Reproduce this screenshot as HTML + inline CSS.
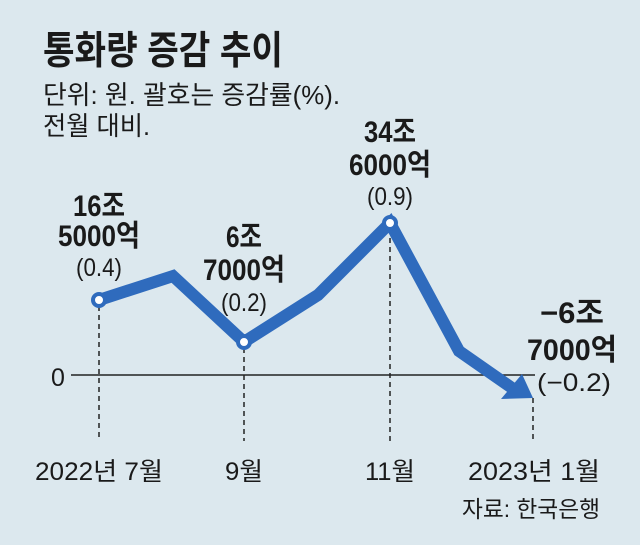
<!DOCTYPE html>
<html><head><meta charset="utf-8"><style>
html,body{margin:0;padding:0;background:#dce8ee;}
svg{display:block;}
text{font-family:"Liberation Sans","Noto Sans CJK KR","NanumGothic",sans-serif;fill:#1a1a1a;}
.b{font-weight:bold;font-size:30px;}
.n{font-size:25px;}
</style></head><body>
<svg width="640" height="545" viewBox="0 0 640 545">
<rect width="640" height="545" fill="#dce8ee"/>
<text x="43" y="64" font-size="39" font-weight="bold" textLength="240" lengthAdjust="spacingAndGlyphs">통화량 증감 추이</text>
<text x="43" y="104" font-size="26" textLength="297" lengthAdjust="spacingAndGlyphs" fill="#333">단위: 원. 괄호는 증감률(%).</text>
<text x="43" y="135" font-size="26" textLength="107" lengthAdjust="spacingAndGlyphs" fill="#333">전월 대비.</text>
<line x1="71" y1="375" x2="535" y2="375" stroke="#222" stroke-width="1.5"/>
<text x="58" y="386" font-size="25" text-anchor="middle">0</text>
<g stroke="#222" stroke-width="1.5" stroke-dasharray="5,4">
<line x1="99" y1="306" x2="99" y2="441"/>
<line x1="244" y1="348" x2="244" y2="441"/>
<line x1="390" y1="229" x2="390" y2="441"/>
<line x1="533" y1="398" x2="533" y2="441"/>
</g>
<polyline points="99,300 173,276 244,342 318,295 390,223 459,351 512,388" fill="none" stroke="#2f6bbd" stroke-width="12" stroke-linejoin="miter"/>
<polygon points="501,399 522,374 533,398" fill="#2f6bbd"/>
<g fill="#fff" stroke="#2f6bbd" stroke-width="4">
<circle cx="99" cy="300" r="6"/>
<circle cx="244" cy="342" r="6"/>
<circle cx="390" cy="223" r="6"/>
</g>
<g text-anchor="middle">
<text class="b" x="99" y="216" textLength="52" lengthAdjust="spacingAndGlyphs">16조</text>
<text class="b" x="99" y="246" textLength="82" lengthAdjust="spacingAndGlyphs">5000억</text>
<text class="n" x="99" y="276" textLength="46" lengthAdjust="spacingAndGlyphs">(0.4)</text>
<text class="b" x="244" y="247" textLength="36" lengthAdjust="spacingAndGlyphs">6조</text>
<text class="b" x="244" y="280" textLength="82" lengthAdjust="spacingAndGlyphs">7000억</text>
<text class="n" x="244" y="311" textLength="46" lengthAdjust="spacingAndGlyphs">(0.2)</text>
<text class="b" x="390" y="142" textLength="52" lengthAdjust="spacingAndGlyphs">34조</text>
<text class="b" x="390" y="175" textLength="82" lengthAdjust="spacingAndGlyphs">6000억</text>
<text class="n" x="390" y="205" textLength="46" lengthAdjust="spacingAndGlyphs">(0.9)</text>
<text class="b" x="572" y="323" textLength="64" lengthAdjust="spacingAndGlyphs">−6조</text>
<text class="b" x="572" y="360" textLength="90" lengthAdjust="spacingAndGlyphs">7000억</text>
<text class="n" x="574" y="391" textLength="74" lengthAdjust="spacingAndGlyphs">(−0.2)</text>
<text class="n" x="99" y="480" font-size="26" textLength="128" lengthAdjust="spacingAndGlyphs">2022년 7월</text>
<text class="n" x="244" y="480" font-size="26" textLength="38" lengthAdjust="spacingAndGlyphs">9월</text>
<text class="n" x="390" y="480" font-size="26" textLength="50" lengthAdjust="spacingAndGlyphs">11월</text>
<text class="n" x="534" y="480" font-size="26" textLength="132" lengthAdjust="spacingAndGlyphs">2023년 1월</text>
</g>
<text x="462" y="517" font-size="23" textLength="138" lengthAdjust="spacingAndGlyphs" fill="#333">자료: 한국은행</text>
</svg>
</body></html>
